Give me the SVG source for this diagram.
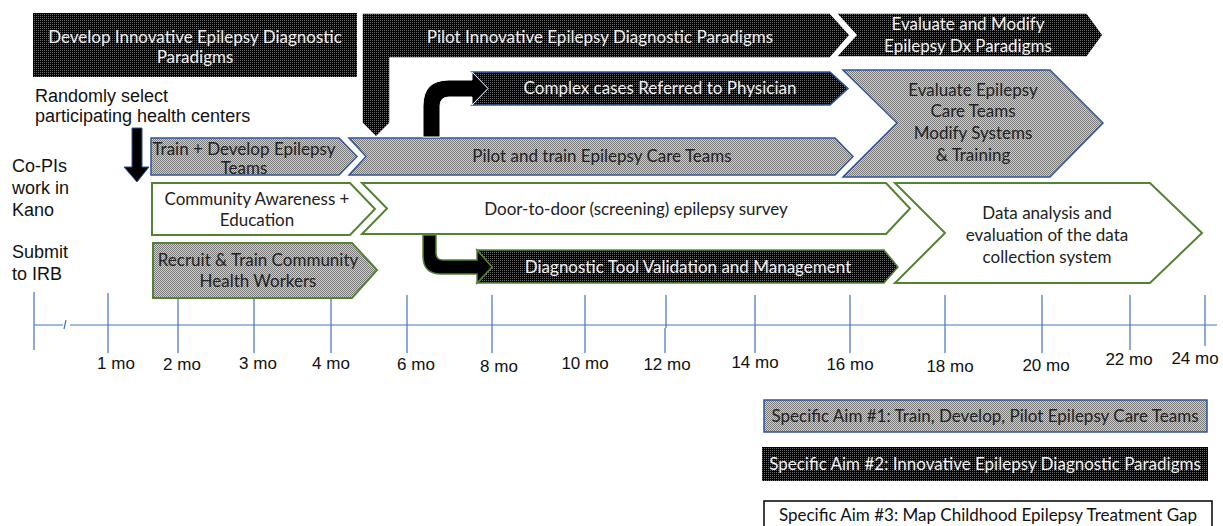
<svg xmlns="http://www.w3.org/2000/svg" width="1223" height="526" viewBox="0 0 1223 526">
<defs>
<pattern id="pGray" width="2" height="2" patternUnits="userSpaceOnUse"><rect width="2" height="2" fill="#d0d0d0"/><rect width="1" height="1" fill="#787878"/><rect x="1" y="1" width="1" height="1" fill="#787878"/></pattern>
<pattern id="pBlack" width="2" height="2" patternUnits="userSpaceOnUse"><rect width="2" height="2" fill="#000"/><rect width="1" height="1" fill="#6a6a6a"/></pattern>
</defs>
<style>
.blk{fill:url(#pBlack);stroke:#fff;stroke-width:1.5}
.blkb{fill:url(#pBlack);stroke:#2f5597;stroke-width:1.5}
.blkg{fill:url(#pBlack);stroke:#548235;stroke-width:1.5}
.gryb{fill:url(#pGray);stroke:#2f5597;stroke-width:1.5}
.gryg{fill:url(#pGray);stroke:#548235;stroke-width:2}
.whg{fill:#fff;stroke:#548235;stroke-width:2}
.t{font-family:Lato,"Liberation Sans",sans-serif;font-size:17px;text-anchor:middle}
.tw{fill:#f2f2f2}
.td{fill:#222}
.lab{font-family:"Liberation Sans",Arial,sans-serif;font-size:18px;fill:#111}
.mo{font-family:"Liberation Sans",Arial,sans-serif;font-size:17px;fill:#111;text-anchor:middle}
.axis{stroke:#4472c4;stroke-width:1.2;fill:none}
</style>
<g id="timeline">
<path class="axis" d="M34,292 V350 M34,325 H63 M64,329 L66,320 M70,325 H1217"/>
<path class="axis" d="M108,293V353 M178,293V353 M254,293V353 M331,293V353 M407,295V353 M492,295V353 M585,295V353 M666,295V328 M665,328V353 M755,295V353 M850,295V353 M945,295V353 M1042,295V353 M1130,295V350 M1205,295V346"/>
<text class="mo" x="116" y="369">1 mo</text>
<text class="mo" x="182" y="370">2 mo</text>
<text class="mo" x="258" y="369">3 mo</text>
<text class="mo" x="331" y="369">4 mo</text>
<text class="mo" x="416" y="370">6 mo</text>
<text class="mo" x="499" y="372">8 mo</text>
<text class="mo" x="585" y="369">10 mo</text>
<text class="mo" x="667" y="370">12 mo</text>
<text class="mo" x="755" y="368">14 mo</text>
<text class="mo" x="850" y="370">16 mo</text>
<text class="mo" x="950" y="372">18 mo</text>
<text class="mo" x="1046" y="371">20 mo</text>
<text class="mo" x="1129" y="365">22 mo</text>
<text class="mo" x="1195" y="364">24 mo</text>
</g>
<g id="left-labels">
<text class="lab" x="35" y="102">Randomly select</text>
<text class="lab" x="35" y="122">participating health centers</text>
<text class="lab" x="12" y="172">Co-PIs</text>
<text class="lab" x="12" y="194">work in</text>
<text class="lab" x="12" y="216">Kano</text>
<text class="lab" x="12" y="258">Submit</text>
<text class="lab" x="12" y="280">to IRB</text>
</g>
<g id="develop-dx">
<rect x="33" y="13" width="324" height="64" fill="url(#pBlack)"/>
<text class="t tw" x="195" y="43">Develop Innovative Epilepsy Diagnostic</text>
<text class="t tw" x="195" y="63">Paradigms</text>
</g>
<g id="pilot-dx">
<polygon class="blk" points="362,13 830,13 850,35 830,58 390,58 390,123 376,137 362,123"/>
<text class="t tw" x="600" y="43">Pilot Innovative Epilepsy Diagnostic Paradigms</text>
</g>
<g id="evaluate-dx">
<polygon class="blk" points="836,13 1087,13 1103,35 1087,57 836,57 856,35"/>
<text class="t tw" x="968" y="30">Evaluate and Modify</text>
<text class="t tw" x="968" y="52">Epilepsy Dx Paradigms</text>
</g>
<g id="complex">
<polygon class="blkb" points="472,72 830,72 848,88.5 830,105 472,105 488,88.5"/>
<text class="t tw" x="660" y="94">Complex cases Referred to Physician</text>
</g>
<g id="train-develop">
<polygon class="gryb" points="151,138 339,138 357,156.5 339,175 151,175"/>
<text class="t td" x="244" y="155">Train + Develop Epilepsy</text>
<text class="t td" x="244" y="174">Teams</text>
</g>
<g id="pilot-train">
<polygon class="gryb" points="349,138 835,138 853,156.5 835,175 349,175 366,156.5"/>
<text class="t td" x="602" y="162">Pilot and train Epilepsy Care Teams</text>
</g>
<g id="evaluate-teams">
<polygon class="gryb" points="843,70 1050,70 1103,123 1050,177 843,177 897,123"/>
<text class="t td" x="973" y="96">Evaluate Epilepsy</text>
<text class="t td" x="973" y="117">Care Teams</text>
<text class="t td" x="973" y="139">Modify Systems</text>
<text class="t td" x="973" y="161">&amp; Training</text>
</g>
<g id="community">
<polygon class="whg" points="152,183 350,183 375,209 350,235 152,235"/>
<text class="t td" x="257" y="205">Community Awareness +</text>
<text class="t td" x="257" y="226">Education</text>
</g>
<g id="door">
<polygon class="whg" points="362,183 886,183 910,208.5 886,234 362,234 387,208.5"/>
<text class="t td" x="636" y="215">Door-to-door (screening) epilepsy survey</text>
</g>
<g id="recruit">
<polygon class="gryg" points="153,243 352,243 377,270 352,298 153,298"/>
<text class="t td" x="258" y="266">Recruit &amp; Train Community</text>
<text class="t td" x="258" y="287">Health Workers</text>
</g>
<g id="diagnostic">
<polygon class="blkg" points="477,250 884,250 898,267 884,283 477,283 492,267"/>
<text class="t tw" x="688" y="273">Diagnostic Tool Validation and Management</text>
</g>
<g id="data-analysis">
<polygon class="whg" points="895,183 1150,183 1202,233 1150,283 895,283 945,233"/>
<text class="t td" x="1047" y="219">Data analysis and</text>
<text class="t td" x="1047" y="241">evaluation of the data</text>
<text class="t td" x="1047" y="263">collection system</text>
</g>
<g id="connectors">
<polygon points="132,128 142,128 142,167 149,167 137,182 124,167 132,167" fill="#000" stroke="#2f5597" stroke-width="1"/>
<path d="M423,137 V106 Q423,80 449,80 H472 V72 L488,88.5 L472,105 V97 H449 Q440,97 440,106 V137 Z" fill="#000" stroke="#fff" stroke-width="1"/>
<path d="M423,235 V256 Q423,274 441,274 H477 V283 L492,267 L477,250 V260 H443 Q436,260 436,253 V235 Z" fill="#000" stroke="#548235" stroke-width="1.5"/>
</g>
<g id="legend">
<rect x="764" y="400" width="443" height="32" class="gryb"/>
<text class="t td" x="985" y="422">Specific Aim #1: Train, Develop, Pilot Epilepsy Care Teams</text>
<rect x="762" y="447" width="446" height="34" fill="url(#pBlack)"/>
<text class="t tw" x="985" y="470">Specific Aim #2: Innovative Epilepsy Diagnostic Paradigms</text>
<rect x="764" y="501" width="448" height="30" fill="#fff" stroke="#000" stroke-width="1.5"/>
<text class="t" x="988" y="521" fill="#111">Specific Aim #3: Map Childhood Epilepsy Treatment Gap</text>
</g>
</svg>
